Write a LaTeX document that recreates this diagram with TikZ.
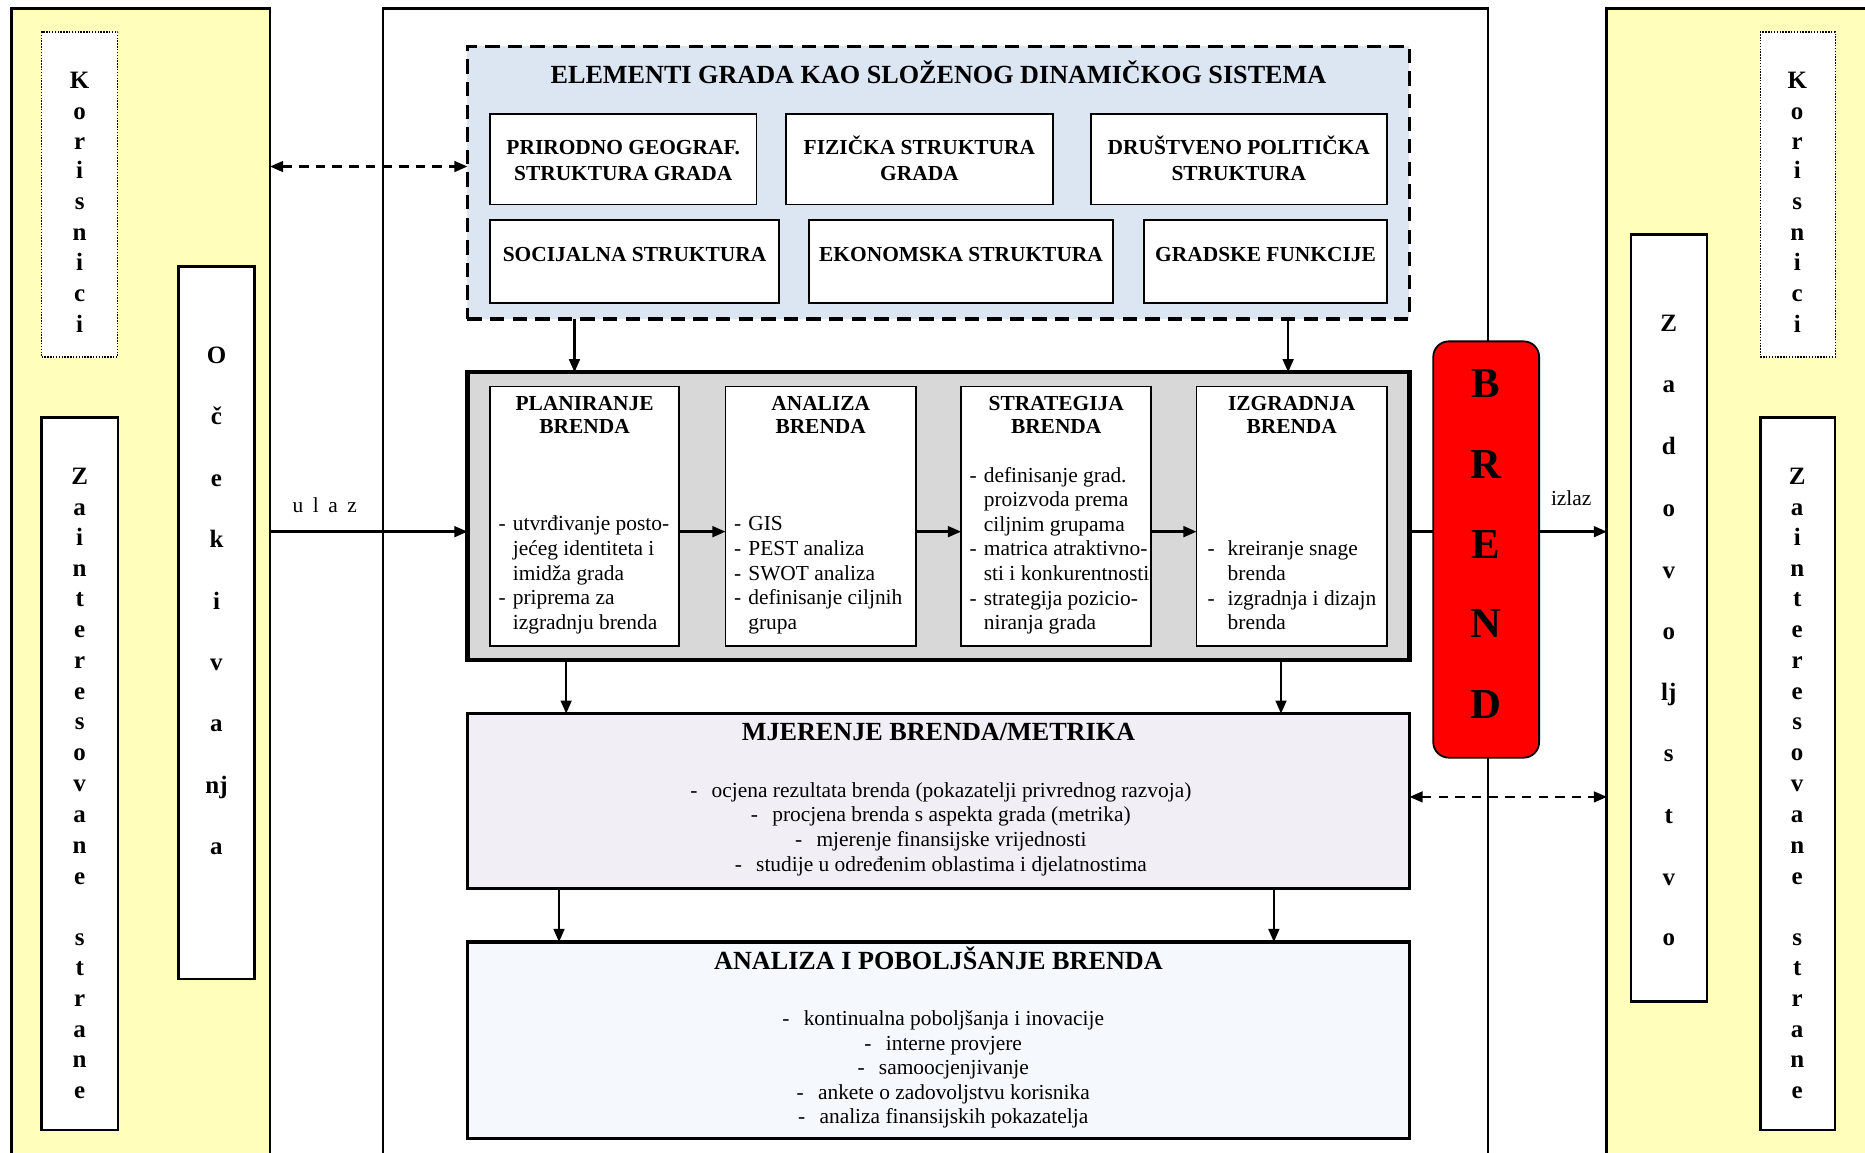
\documentclass[tikz,border=0pt]{standalone}
\usepackage{fontspec}
\setmainfont{Liberation Serif}
\usetikzlibrary{arrows.meta}
\definecolor{panelyellow}{RGB}{255,255,187}
\definecolor{elemblue}{RGB}{220,230,242}
\definecolor{stepgray}{RGB}{216,216,216}
\definecolor{metlav}{RGB}{242,238,245}
\definecolor{anablue}{RGB}{245,249,253}
\definecolor{brandred}{RGB}{255,0,0}
\newcommand\bdash{\makebox[12pt][l]{-}}
\newcommand\bind{\hspace*{12pt}}
\newcommand\bdashw{\makebox[17pt][l]{-}}
\newcommand\bindw{\hspace*{17pt}}
\begin{document}
\begin{tikzpicture}[x=1pt,y=-1pt,
  >={Triangle[length=11pt,width=9pt]},
  rectbox/.style={draw, anchor=north west, inner sep=0pt, outer sep=0pt},
  steptitle/.style={font=\bfseries\fontsize{18}{20}\selectfont, inner sep=0pt, anchor=mid, yshift=-2.5pt},
  bodyline/.style={font=\fontsize{18}{20.7}\selectfont, inner sep=0pt, anchor=mid west, yshift=-4pt},
  centline/.style={font=\fontsize{18}{20.7}\selectfont, inner sep=0pt, anchor=mid, yshift=-4pt},
  sideletter/.style={font=\bfseries\fontsize{21}{24}\selectfont, inner sep=0pt, anchor=mid, yshift=-5pt},
  bigtitle/.style={font=\bfseries\fontsize{22}{26}\selectfont, inner sep=0pt, anchor=mid, yshift=-3.5pt},
  brandletter/.style={font=\bfseries\fontsize{36}{40}\selectfont, inner sep=0pt, anchor=mid, yshift=-7pt},
  conn/.style={line width=2pt},
  dconn/.style={line width=2pt, dash pattern=on 8pt off 6pt, <->},
]
\clip (0,0) rectangle (1568,969);
\fill[white] (0,0) rectangle (1568,969);

% helper coordinates
\coordinate (ymain) at (0,447);
\coordinate (ytop) at (0,140);
\coordinate (ymet) at (0,670);

% central frame
\node[rectbox, line width=2pt, minimum width=929pt, minimum height=990pt] (center) at (322,7) {};

% left panel
\node[rectbox, line width=2.5pt, fill=panelyellow, minimum width=217pt, minimum height=990pt] (lpanel) at (10,7) {};
\node[rectbox, line width=1.2pt, dash pattern=on 1.2pt off 1.2pt, fill=white, minimum width=64pt, minimum height=273pt] (lkor) at (35,27) {};
\node[rectbox, line width=2pt, fill=white, minimum width=64pt, minimum height=599pt] (lzain) at (35,351) {};
\node[rectbox, line width=2pt, fill=white, minimum width=64pt, minimum height=599pt] (locek) at (150,224) {};
\foreach \l/\yy [count=\i] in {K/67,o/93,r/118,i/143,s/169,n/195,i/220,c/246,i/272}
  \node[sideletter] (lk\i) at (67,\yy) {\l};
\foreach \l/\yy [count=\i] in {Z/400,a/426,i/451,n/477,t/503,e/529,r/555,e/581,s/606,o/632,v/658,a/684,n/710,e/736,s/788,t/813,r/839,a/865,n/890,e/916}
  \node[sideletter] (lz\i) at (67,\yy) {\l};
\foreach \l/\yy [count=\i] in {O/298,č/350,e/402,k/453,i/505,v/556,a/608,nj/660,a/711}
  \node[sideletter] (lo\i) at (182,\yy) {\l};

% right panel
\node[rectbox, line width=2.5pt, fill=panelyellow, minimum width=240pt, minimum height=990pt] (rpanel) at (1351,7) {};
\node[rectbox, line width=1.2pt, dash pattern=on 1.2pt off 1.2pt, fill=white, minimum width=63pt, minimum height=273pt] (rkor) at (1480,27) {};
\node[rectbox, line width=2pt, fill=white, minimum width=63pt, minimum height=599pt] (rzain) at (1480,351) {};
\node[rectbox, line width=2pt, fill=white, minimum width=64pt, minimum height=645pt] (rzad) at (1371,197) {};
\foreach \l/\yy [count=\i] in {K/67,o/93,r/118,i/143,s/169,n/195,i/220,c/246,i/272}
  \node[sideletter] (rk\i) at (1511,\yy) {\l};
\foreach \l/\yy [count=\i] in {Z/400,a/426,i/451,n/477,t/503,e/529,r/555,e/581,s/606,o/632,v/658,a/684,n/710,e/736,s/788,t/813,r/839,a/865,n/890,e/916}
  \node[sideletter] (rz\i) at (1511,\yy) {\l};
\foreach \l/\yy [count=\i] in {Z/271,a/323,d/375,o/427,v/479,o/530,lj/582,s/633,t/685,v/737,o/788}
  \node[sideletter] (rd\i) at (1403,\yy) {\l};

% elements box
\node[rectbox, line width=3pt, dash pattern=on 12pt off 7pt, fill=elemblue, minimum width=792pt, minimum height=229pt] (elem) at (393,39) {};
\node[bigtitle] (elemT) at (789,64) {ELEMENTI GRADA KAO SLOŽENOG DINAMIČKOG SISTEMA};
\node[rectbox, line width=1.5pt, fill=white, minimum width=224pt, minimum height=76pt] (e1) at (412,96) {};
\node[rectbox, line width=1.5pt, fill=white, minimum width=224pt, minimum height=76pt] (e2) at (661,96) {};
\node[rectbox, line width=1.5pt, fill=white, minimum width=249pt, minimum height=76pt] (e3) at (917,96) {};
\node[rectbox, line width=1.5pt, fill=white, minimum width=243pt, minimum height=70pt] (e4) at (412,185) {};
\node[rectbox, line width=1.5pt, fill=white, minimum width=256pt, minimum height=70pt] (e5) at (680,185) {};
\node[rectbox, line width=1.5pt, fill=white, minimum width=204pt, minimum height=70pt] (e6) at (962,185) {};
\node[steptitle] (e1a) at (e1.center |- 0,125) {PRIRODNO GEOGRAF.};
\node[steptitle] (e1b) at (e1.center |- 0,147) {STRUKTURA GRADA};
\node[steptitle] (e2a) at (e2.center |- 0,125) {FIZIČKA STRUKTURA};
\node[steptitle] (e2b) at (e2.center |- 0,147) {GRADA};
\node[steptitle] (e3a) at (e3.center |- 0,125) {DRUŠTVENO POLITIČKA};
\node[steptitle] (e3b) at (e3.center |- 0,147) {STRUKTURA};
\node[steptitle] (e4a) at (e4.center |- 0,215) {SOCIJALNA STRUKTURA};
\node[steptitle] (e5a) at (e5.center |- 0,215) {EKONOMSKA STRUKTURA};
\node[steptitle] (e6a) at (e6.center |- 0,215) {GRADSKE FUNKCIJE};

% brand process box
\node[rectbox, line width=3.5pt, fill=stepgray, minimum width=792pt, minimum height=242pt] (gray) at (393,313) {};
\node[rectbox, line width=1.5pt, fill=white, minimum width=159pt, minimum height=218pt] (s1) at (412,325) {};
\node[rectbox, line width=1.5pt, fill=white, minimum width=160pt, minimum height=218pt] (s2) at (610,325) {};
\node[rectbox, line width=1.5pt, fill=white, minimum width=160pt, minimum height=218pt] (s3) at (808,325) {};
\node[rectbox, line width=1.5pt, fill=white, minimum width=160pt, minimum height=218pt] (s4) at (1006,325) {};
\node[steptitle] (s1a) at (s1.center |- 0,340) {PLANIRANJE};
\node[steptitle] (s1b) at (s1.center |- 0,360) {BRENDA};
\node[steptitle] (s2a) at (s2.center |- 0,340) {ANALIZA};
\node[steptitle] (s2b) at (s2.center |- 0,360) {BRENDA};
\node[steptitle] (s3a) at (s3.center |- 0,340) {STRATEGIJA};
\node[steptitle] (s3b) at (s3.center |- 0,360) {BRENDA};
\node[steptitle] (s4a) at (s4.center |- 0,340) {IZGRADNJA};
\node[steptitle] (s4b) at (s4.center |- 0,360) {BRENDA};
\foreach \t [count=\i] in {\bdash utvrđivanje posto-,\bind jećeg identiteta i,\bind imidža grada,\bdash priprema za,\bind izgradnju brenda}
  \node[bodyline] (s1l\i) at (419,{440+(\i-1)*20.7}) {\t};
\foreach \t [count=\i] in {\bdash GIS,\bdash PEST analiza,\bdash SWOT analiza,\bdash definisanje ciljnih,\bind grupa}
  \node[bodyline] (s2l\i) at (617,{440+(\i-1)*20.7}) {\t};
\foreach \t [count=\i] in {\bdash definisanje grad.,\bind proizvoda prema,\bind ciljnim grupama,\bdash matrica atraktivno-,\bind sti i konkurentnosti,\bdash strategija pozicio-,\bind niranja grada}
  \node[bodyline] (s3l\i) at (815,{399+(\i-1)*20.7}) {\t};
\foreach \t [count=\i] in {\bdashw kreiranje snage,\bindw brenda,\bdashw izgradnja i dizajn,\bindw brenda}
  \node[bodyline] (s4l\i) at (1015,{461+(\i-1)*20.7}) {\t};

% metrics box
\node[rectbox, line width=3pt, fill=metlav, minimum width=792pt, minimum height=147pt] (met) at (393,600) {};
\node[bigtitle] (metT) at (789,617) {MJERENJE BRENDA/METRIKA};
\foreach \t [count=\i] in {-\hspace{12pt}ocjena rezultata brenda (pokazatelji privrednog razvoja),-\hspace{12pt}procjena brenda s aspekta grada (metrika),-\hspace{12pt}mjerenje finansijske vrijednosti,-\hspace{12pt}studije u određenim oblastima i djelatnostima}
  \node[centline] (metl\i) at (791,{664+(\i-1)*20.7}) {\t};

% improvement box
\node[rectbox, line width=3pt, fill=anablue, minimum width=792pt, minimum height=165pt] (ana) at (393,792) {};
\node[bigtitle] (anaT) at (789,809) {ANALIZA I POBOLJŠANJE BRENDA};
\foreach \t [count=\i] in {-\hspace{12pt}kontinualna poboljšanja i inovacije,-\hspace{12pt}interne provjere,-\hspace{12pt}samoocjenjivanje,-\hspace{12pt}ankete o zadovoljstvu korisnika,-\hspace{12pt}analiza finansijskih pokazatelja}
  \node[centline] (anal\i) at (793,{856+(\i-1)*20.6}) {\t};

% connectors
\draw[conn,->] (elem.south -| 483,0) -- (gray.north -| 483,0);
\draw[conn,->] (elem.south -| 1083,0) -- (gray.north -| 1083,0);
\draw[conn,->] (gray.south -| 476,0) -- (met.north -| 476,0);
\draw[conn,->] (gray.south -| 1077,0) -- (met.north -| 1077,0);
\draw[conn,->] (met.south -| 470,0) -- (ana.north -| 470,0);
\draw[conn,->] (met.south -| 1071,0) -- (ana.north -| 1071,0);
\draw[conn,->] (s1.east |- ymain) -- (s2.west |- ymain);
\draw[conn,->] (s2.east |- ymain) -- (s3.west |- ymain);
\draw[conn,->] (s3.east |- ymain) -- (s4.west |- ymain);
\draw[conn,->] (lpanel.east |- ymain) -- (gray.west |- ymain);
\node[centline] (ulaz) at (273,425) {u\hspace{8pt}l\hspace{8pt}a\hspace{8pt}z};
\draw[dconn] (lpanel.east |- ytop) -- (elem.west |- ytop);

% brand
\node[rectbox, line width=1.5pt, fill=brandred, rounded corners=13pt, minimum width=89pt, minimum height=350pt] (brend) at (1205,287) {};
\foreach \l/\yy [count=\i] in {B/325,R/393,E/460,N/527,D/595}
  \node[brandletter] (bl\i) at (1249,\yy) {\l};
\draw[conn] (gray.east |- ymain) -- (brend.west |- ymain);
\draw[conn,->] (brend.east |- ymain) -- (rpanel.west |- ymain);
\node[centline] (izlaz) at (1321,419) {izlaz};
\draw[dconn] (met.east |- ymet) -- (rpanel.west |- ymet);
\end{tikzpicture}
\end{document}
